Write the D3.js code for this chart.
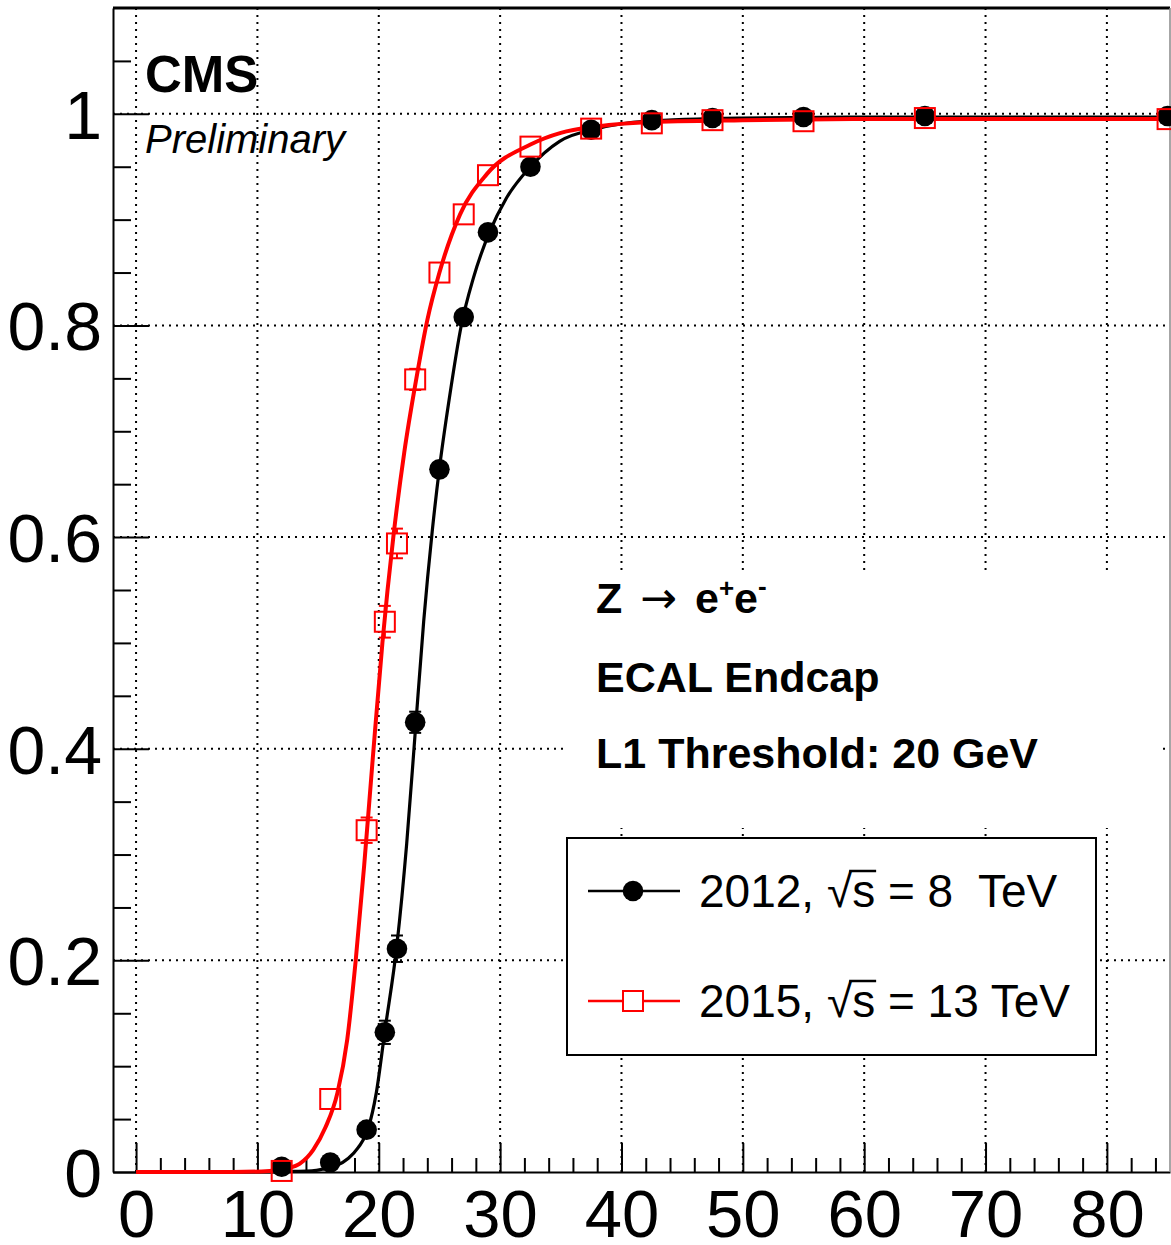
<!DOCTYPE html>
<html><head><meta charset="utf-8">
<script src="https://cdn.jsdelivr.net/npm/d3@7"></script>
<style>
body{margin:0;background:#fff}
svg{display:block}
text{font-family:"Liberation Sans",Arial,Helvetica,sans-serif}
</style>
</head><body>
<svg id="c" width="1171" height="1245"></svg>
<script>
// ---------------- data ----------------
const binX = [12, 16, 19, 20.5, 21.5, 23, 25, 27, 29, 32.5, 37.5, 42.5, 47.5, 55, 65, 85];
const eff2012 = [0.005, 0.009, 0.040, 0.132, 0.211, 0.425, 0.664, 0.808, 0.888, 0.950, 0.985, 0.994, 0.996, 0.997, 0.998, 0.998];
const err2012 = [0.002, 0.003, 0.007, 0.011, 0.0125, 0.010, 0.008, 0.007, 0.006, 0.004, 0.003, 0.002, 0.002, 0.002, 0.002, 0.002];
const eff2015 = [0.001, 0.069, 0.323, 0.520, 0.594, 0.749, 0.850, 0.905, 0.942, 0.969, 0.986, 0.991, 0.994, 0.993, 0.996, 0.995];
const err2015 = [0.002, 0.008, 0.012, 0.015, 0.014, 0.010, 0.008, 0.007, 0.006, 0.004, 0.003, 0.002, 0.002, 0.002, 0.002, 0.002];

// fitted curves
const fitX2012 = [0, 10, 13, 14.5, 15.5, 16.5, 17.5, 18.3, 19.1, 19.8, 20.5, 21.5, 22.3, 23.0, 23.7, 24.4, 25.0, 25.8, 26.8, 27.8, 29.1, 30.5, 32.5, 34.9, 38, 42, 50, 60, 85.2];
const fitY2012 = [0, 0, 0.0005, 0.001, 0.003, 0.006, 0.013, 0.023, 0.040, 0.075, 0.133, 0.215, 0.31, 0.415, 0.52, 0.605, 0.665, 0.73, 0.80, 0.845, 0.8875, 0.92, 0.95, 0.974, 0.986, 0.993, 0.996, 0.997, 0.997];
const fitX2015 = [0, 8, 11, 12.4, 13.5, 14.6, 15.6, 16.6, 17.4, 18.1, 18.8, 19.5, 20.3, 21.2, 22.1, 23.1, 24.0, 25.0, 26.7, 28.9, 32.5, 35, 38, 42, 50, 60, 85.2];
const fitY2015 = [0, 0, 0.001, 0.0035, 0.008, 0.021, 0.042, 0.075, 0.125, 0.2, 0.29, 0.39, 0.5, 0.6, 0.68, 0.75, 0.805, 0.85, 0.905, 0.943, 0.971, 0.982, 0.988, 0.992, 0.994, 0.995, 0.995];

const xTickValues = [0, 10, 20, 30, 40, 50, 60, 70, 80];
const yTickValues = [0, 0.2, 0.4, 0.6, 0.8, 1.0];
const yTickLabels = ["0", "0.2", "0.4", "0.6", "0.8", "1"];
const legendLabels = ["2012, \u221As = 8  TeV", "2015, \u221As = 13 TeV"];
const infoLines = ["ECAL Endcap", "L1 Threshold: 20 GeV"];

// ---------------- layout ----------------
const L = 113, R = 1170, T = 8, B = 1172;
const x = d3.scaleLinear().domain([-1.9, 85.2]).range([L, R]);
const y = d3.scaleLinear().domain([0, 1.1]).range([B, T]);
const svg = d3.select("#c");

// grid
const grid = svg.append("g").attr("stroke", "#000").attr("stroke-width", 2).attr("stroke-dasharray", "2,5");
grid.selectAll("line.v").data(xTickValues).join("line")
  .attr("x1", d => x(d)).attr("x2", d => x(d)).attr("y1", T).attr("y2", B);
grid.selectAll("line.h").data(yTickValues.filter(d => d > 0)).join("line")
  .attr("x1", L).attr("x2", R).attr("y1", d => y(d)).attr("y2", d => y(d));

// info pave (white background)
svg.append("rect").attr("x", 563).attr("y", 572).attr("width", 600).attr("height", 256).attr("fill", "#fff");

// axes
const xMinor = d3.range(0, 85.2, 2).filter(v => v % 10 !== 0);
const gx = svg.append("g").attr("transform", `translate(0,${B})`);
gx.call(d3.axisBottom(x).tickValues(xMinor).tickFormat("").tickSize(-14).tickSizeOuter(0));
gx.call(g => g.select(".domain").remove());
gx.selectAll("line").attr("stroke", "#000").attr("stroke-width", 2);
const gx2 = svg.append("g").attr("transform", `translate(0,${B})`);
gx2.call(d3.axisBottom(x).tickValues(xTickValues).tickFormat(d3.format("d")).tickSize(-29).tickSizeOuter(0).tickPadding(17));
gx2.selectAll("text").attr("font-size", 67).attr("fill", "#000").attr("font-family", null);
gx2.selectAll("line,path").attr("stroke", "#000").attr("stroke-width", 2);

const yMinor = d3.range(0.05, 1.1, 0.05).filter(v => Math.abs(v * 5 - Math.round(v * 5)) > 1e-6);
const gy = svg.append("g").attr("transform", `translate(${L},0)`);
gy.call(d3.axisLeft(y).tickValues(yMinor).tickFormat("").tickSize(-18).tickSizeOuter(0));
gy.call(g => g.select(".domain").remove());
gy.selectAll("line").attr("stroke", "#000").attr("stroke-width", 2);
const gy2 = svg.append("g").attr("transform", `translate(${L},0)`);
gy2.call(d3.axisLeft(y).tickValues(yTickValues).tickFormat((d, i) => yTickLabels[i]).tickSize(-36).tickSizeOuter(0).tickPadding(11));
gy2.selectAll("text").attr("font-size", 68).attr("fill", "#000").attr("dy", "0.36em").attr("font-family", null);
gy2.selectAll("line,path").attr("stroke", "#000").attr("stroke-width", 2);

// frame
svg.append("line").attr("x1", L).attr("x2", R).attr("y1", T).attr("y2", T).attr("stroke", "#000").attr("stroke-width", 3);
svg.append("line").attr("x1", R).attr("x2", R).attr("y1", T).attr("y2", B).attr("stroke", "#888").attr("stroke-width", 1.5);

// curves
const line = d3.line().x(d => x(d[0])).y(d => y(d[1])).curve(d3.curveMonotoneX);
svg.append("path").datum(d3.zip(fitX2012, fitY2012)).attr("d", line)
  .attr("fill", "none").attr("stroke", "#000").attr("stroke-width", 3.2);
svg.append("path").datum(d3.zip(fitX2015, fitY2015)).attr("d", line)
  .attr("fill", "none").attr("stroke", "#ff0000").attr("stroke-width", 4);

// markers + error bars
const half = 10;
function errBars(g, xs, ys, es, color) {
  xs.forEach((xv, i) => {
    const cx = x(xv), cy = y(ys[i]), ep = y(0) - y(es[i]);
    if (ep > half) {
      [[cy - half, cy - ep], [cy + half, cy + ep]].forEach(([a, b]) => {
        g.append("line").attr("x1", cx).attr("x2", cx).attr("y1", a).attr("y2", b).attr("stroke", color).attr("stroke-width", 2);
        g.append("line").attr("x1", cx - 6).attr("x2", cx + 6).attr("y1", b).attr("y2", b).attr("stroke", color).attr("stroke-width", 2);
      });
    }
  });
}
const gb = svg.append("g");
errBars(gb, binX, eff2012, err2012, "#000");
gb.selectAll("circle").data(binX).join("circle")
  .attr("cx", d => x(d)).attr("cy", (d, i) => y(eff2012[i])).attr("r", 10.3).attr("fill", "#000");
const gr = svg.append("g");
errBars(gr, binX, eff2015, err2015, "#ff0000");
gr.selectAll("rect").data(binX).join("rect")
  .attr("x", d => x(d) - 10).attr("y", (d, i) => y(eff2015[i]) - 10).attr("width", 20).attr("height", 20)
  .attr("fill", "none").attr("stroke", "#ff0000").attr("stroke-width", 2);

// CMS labels
svg.append("text").attr("x", 145).attr("y", 92).attr("font-size", 51).attr("font-weight", "bold").text("CMS");
svg.append("text").attr("x", 145).attr("y", 153).attr("font-size", 40).attr("font-style", "italic").text("Preliminary");

// info text
const z = svg.append("text").attr("x", 596).attr("y", 613).attr("font-size", 43).attr("font-weight", "bold").style("white-space", "pre");
z.append("tspan").text("Z");
z.append("tspan").attr("x", 640).attr("font-weight", "normal").attr("font-family", "DejaVu Sans").attr("font-size", 44).attr("dy", 0).text("\u2192");
z.append("tspan").attr("x", 695).text("e");
z.append("tspan").attr("font-size", 26).attr("dy", -16).text("+");
z.append("tspan").attr("dy", 16).text("e");
z.append("tspan").attr("font-size", 26).attr("dy", -18).text("-");
svg.selectAll("text.info").data(infoLines).join("text").attr("class", "info")
  .attr("x", 596).attr("y", (d, i) => 692 + i * 76).attr("font-size", 43).attr("font-weight", "bold").text(d => d);

// legend
const lg = svg.append("g");
lg.append("rect").attr("x", 567).attr("y", 838).attr("width", 529).attr("height", 217)
  .attr("fill", "#fff").attr("stroke", "#000").attr("stroke-width", 2);
const rowsY = [891, 1001];
const colors = ["#000", "#ff0000"];
legendLabels.forEach((lab, i) => {
  const cy = rowsY[i];
  lg.append("line").attr("x1", 588).attr("x2", 680).attr("y1", cy).attr("y2", cy).attr("stroke", colors[i]).attr("stroke-width", 2.5);
  if (i === 0) lg.append("circle").attr("cx", 633).attr("cy", cy).attr("r", 10.3).attr("fill", "#000");
  else lg.append("rect").attr("x", 623).attr("y", cy - 10).attr("width", 20).attr("height", 20).attr("fill", "#fff").attr("stroke", "#ff0000").attr("stroke-width", 2);
  const t = lg.append("text").attr("x", 699).attr("y", cy + 16).attr("font-size", 46).style("white-space", "pre").text(lab);
  const k = lab.indexOf("\u221A");
  const n = t.node();
  const x0 = n.getEndPositionOfChar(k).x - 3;
  const x1 = n.getEndPositionOfChar(k + 1).x + 1;
  lg.append("line").attr("x1", x0).attr("x2", x1).attr("y1", cy + 16 - 36).attr("y2", cy + 16 - 36).attr("stroke", "#000").attr("stroke-width", 2.5);
});
</script>
</body></html>
